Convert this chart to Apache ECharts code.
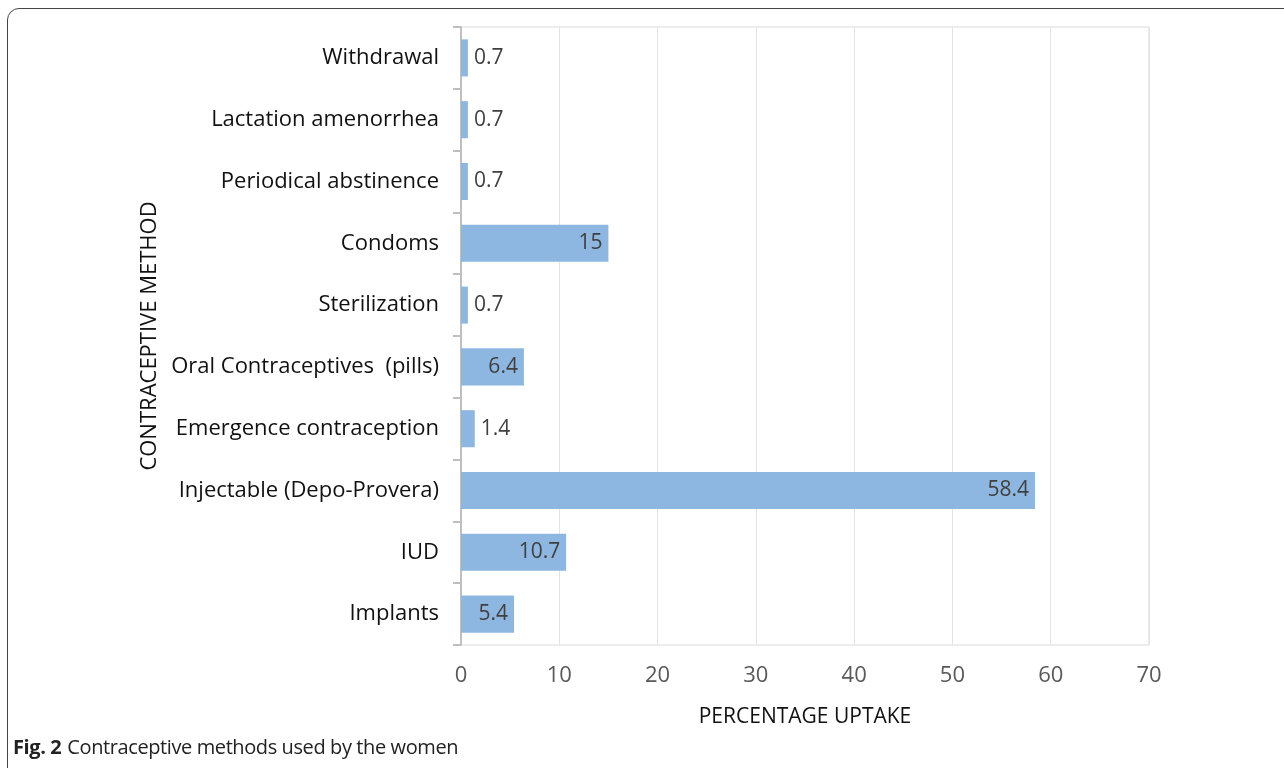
<!DOCTYPE html>
<html lang="en">
  <head>
    <meta charset="UTF-8" />
    <title>Contraceptive methods used by the women</title>
    <script src="https://cdn.jsdelivr.net/npm/echarts@6/dist/echarts.min.js"></script>
    <style>
      html, body { margin: 0; padding: 0; background: #fff; overflow: hidden; }
      .frame {
        position: absolute;
        left: 7px;
        top: 8px;
        width: 1300px;
        height: 800px;
        border: 1px solid #444;
        border-radius: 12px;
      }
      #chart { position: absolute; left: 0; top: 0; width: 1284px; height: 768px; }
      .caption {
        position: absolute;
        left: 13px;
        top: 733px;
        font-family: 'Open Sans', sans-serif;
        font-size: 20px;
        color: #222;
        letter-spacing: -0.4px;
      }
      .caption b { font-weight: 700; margin-right: 6px; }
    </style>
  </head>
  <body>
    <div class="frame"></div>
    <div id="chart"></div>
    <div class="caption"><b>Fig. 2</b>Contraceptive methods used by the women</div>
    <script>
      // bottom to top
      var methods = [
        'Implants',
        'IUD',
        'Injectable (Depo-Provera)',
        'Emergence contraception',
        'Oral Contraceptives  (pills)',
        'Sterilization',
        'Condoms',
        'Periodical abstinence',
        'Lactation amenorrhea',
        'Withdrawal'
      ];
      var uptake = [5.4, 10.7, 58.4, 1.4, 6.4, 0.7, 15, 0.7, 0.7, 0.7];

      drawChart();

      function drawChart() {
        var el = document.getElementById('chart');
        var chart = echarts.init(el);

        var barData = uptake.map(function (v) {
          // small bars get the label outside, like excel does
          var pos = v < 3 ? 'right' : 'insideRight';
          return { value: v, label: { position: pos } };
        });

        var option = {
          animation: false,
          grid: {
            left: 461,
            right: 135,
            top: 27,
            bottom: 123,
            show: true,
            borderColor: '#d9d9d9',
            borderWidth: 1
          },
          xAxis: {
            type: 'value',
            min: 0,
            max: 70,
            interval: 10,
            name: 'PERCENTAGE UPTAKE',
            nameLocation: 'middle',
            nameGap: 62,
            nameTextStyle: { color: '#111', fontSize: 21, fontFamily: 'Open Sans' },
            axisLine: { show: false },
            axisTick: { show: false },
            axisLabel: { color: '#595959', fontSize: 22, fontFamily: 'Open Sans', margin: 20 },
            splitLine: { lineStyle: { color: '#e3e3e3', width: 1 } }
          },
          yAxis: {
            type: 'category',
            data: methods,
            name: 'CONTRACEPTIVE METHOD',
            nameLocation: 'middle',
            nameGap: 298,
            nameRotate: 90,
            nameTextStyle: { color: '#111', fontSize: 22, fontFamily: 'Open Sans' },
            axisLine: { show: true, lineStyle: { color: '#bfbfbf', width: 2 } },
            axisTick: { show: true, length: 8, lineStyle: { color: '#bfbfbf', width: 2 } },
            axisLabel: { color: '#111', fontSize: 22, fontFamily: 'Open Sans', margin: 22 }
          },
          series: [
            {
              type: 'bar',
              data: barData,
              barCategoryGap: '40%',
              itemStyle: { color: '#8db7e1' },
              label: {
                show: true,
                color: '#404040',
                fontSize: 21,
                fontFamily: 'Open Sans',
                distance: 6
              }
            }
          ]
        };

        chart.setOption(option);
      }
    </script>
  </body>
</html>
